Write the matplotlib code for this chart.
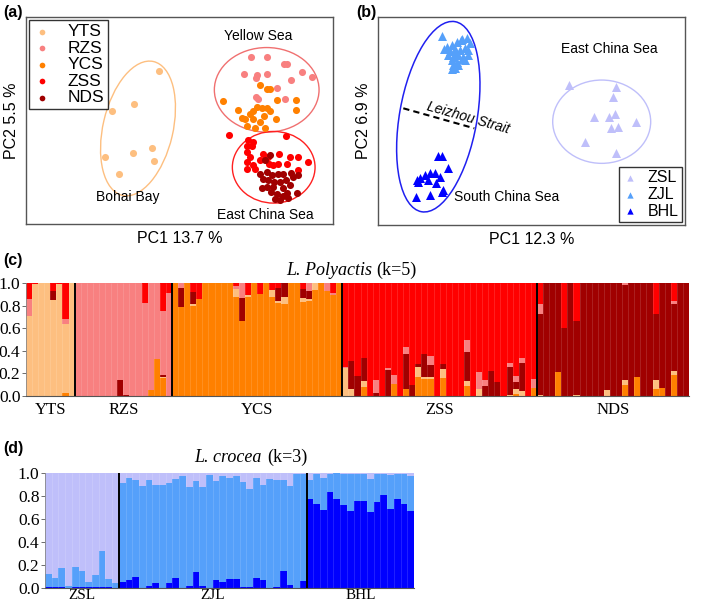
import numpy as np
import matplotlib
matplotlib.use('Agg')
from matplotlib import pyplot as plt
from matplotlib import patches

plt.rcParams['font.family'] = ['Liberation Sans', 'DejaVu Sans']
SERIF = 'Liberation Serif'

W, H = 709, 606

# ---- colours
C_YTS, C_RZS, C_YCS, C_ZSS, C_NDS = '#FDBF80', '#F88080', '#FF8000', '#FF0000', '#A00000'
C_ZSL, C_ZJL, C_BHL = '#BFBFFA', '#55A0FA', '#0000FF'

# ---- (a) PCA of L. polyactis (arbitrary PC units)
yts_x = [13.33, 10.8, 8.57, 7.93, 10.73, 12.63, 12.8, 9.33]
yts_y = [15.33, 12.07, 11.33, 6.73, 7.13, 7.6, 6.3, 5.0]
rzs_x = [22.47, 24.13, 25.8, 26.13, 21.8, 23.07, 24.13, 23.0, 25.07, 26.47, 27.57, 28.57, 23.0, 23.23, 25.93]
rzs_y = [16.83, 16.83, 16.07, 16.07, 15.07, 15.0, 15.07, 14.67, 13.67, 14.47, 15.3, 14.73, 12.73, 12.53, 12.53]
ycs_x = [23.4, 24.07, 24.4, 19.67, 25.07, 27.0, 23.07, 23.57, 24.07, 21.23, 22.73, 24.4, 27.0,
         21.57, 21.9, 22.73, 23.8, 25.0, 23.4, 22.07, 22.9, 23.9, 22.4]
ycs_y = [14.0, 13.57, 13.57, 12.4, 12.47, 12.47, 11.8, 11.67, 11.67, 11.47, 11.33, 11.4, 11.47,
         10.67, 10.6, 10.57, 10.9, 10.6, 10.2, 9.8, 9.67, 9.6, 11.07]
zss_x = [20.27, 25.97, 22.23, 22.73, 22.07, 22.57, 22.13, 23.73, 25.33, 26.4, 27.23, 28.23,
         22.13, 22.73, 22.07, 22.9, 24.33, 24.73, 25.23, 26.07, 27.17, 24.23, 22.4, 23.4]
zss_y = [8.9, 8.8, 8.4, 8.23, 7.8, 7.8, 7.23, 7.0, 7.0, 6.73, 6.73, 6.23,
         6.23, 5.9, 5.57, 5.57, 6.07, 5.9, 6.0, 6.07, 5.4, 6.73, 6.73, 6.4]
nds_x = [24.4, 23.9, 24.07, 23.4, 24.57, 25.23, 25.73, 26.47, 23.73, 24.23, 24.8, 25.4, 26.0, 26.73,
         27.23, 24.07, 24.73, 25.73, 26.4, 23.57, 24.47, 25.07, 25.67, 26.13, 27.07, 24.9, 25.4, 26.23]
nds_y = [6.9, 6.47, 5.23, 5.07, 4.9, 5.07, 5.0, 5.13, 4.57, 4.4, 4.23, 4.23, 4.4, 4.73,
         4.9, 3.73, 3.73, 3.57, 3.9, 3.57, 3.23, 3.0, 2.8, 3.13, 3.07, 2.5, 2.4, 2.57]

# ---- (b) PCA of L. crocea
zsl_x = [19.13, 23.8, 23.53, 21.63, 23.1, 23.7, 25.77, 23.27, 23.97, 20.7, 23.8]
zsl_y = [14.0, 13.77, 12.77, 10.83, 10.83, 11.1, 10.33, 9.67, 9.83, 8.33, 7.17]
zjl_x = [6.43, 6.87, 7.37, 7.87, 8.37, 8.87, 9.2, 6.63, 7.2, 7.7, 8.2, 8.7, 9.03, 7.03,
         7.53, 8.03, 8.53, 8.97, 7.37, 7.87, 8.37, 8.7, 7.53, 8.03, 7.37, 7.7, 8.3, 7.8]
zjl_y = [18.9, 17.83, 18.0, 18.33, 18.57, 18.67, 18.17, 17.57, 17.43, 17.57, 17.5, 17.67, 17.5, 17.0,
         16.83, 17.0, 16.83, 17.0, 16.5, 16.33, 16.57, 16.5, 16.0, 16.0, 15.57, 15.67, 18.5, 17.17]
bhl_x = [5.97, 6.43, 6.97, 3.87, 4.2, 4.7, 5.2, 5.7, 6.2, 4.03, 5.03, 5.77, 6.53, 3.8, 5.2, 6.43]
bhl_y = [6.9, 6.9, 5.67, 4.5, 4.67, 5.0, 5.17, 5.23, 4.83, 4.33, 4.5, 4.17, 3.5, 2.83, 3.0, 3.33]

# ---- (c) admixture, L. polyactis, k=5; columns: YCS, YTS, NDS, RZS, ZSS
pure = {'YCS': (1, 0, 0, 0, 0), 'YTS': (0, 1, 0, 0, 0), 'NDS': (0, 0, 1, 0, 0),
        'RZS': (0, 0, 0, 1, 0), 'ZSS': (0, 0, 0, 0, 1)}
q_yts = [(0, 0.71, 0, 0.15, 0.14), (0, 0.99, 0, 0, 0.01), pure['YTS'], pure['YTS'],
         (0, 0.85, 0.08, 0, 0.07), (0, 0.99, 0, 0, 0.01), (0.03, 0.61, 0, 0.04, 0.32), pure['YTS']]
q_rzs = [pure['RZS']] * 7 + [(0, 0, 0.14, 0.86, 0), (0, 0, 0.01, 0.99, 0), pure['RZS'], pure['RZS'],
         (0, 0, 0, 0.82, 0.18), (0.05, 0, 0, 0.95, 0), (0.33, 0, 0, 0.67, 0),
         (0.16, 0.01, 0.02, 0.56, 0.25), (0, 0, 0, 0.91, 0.09)]
q_ycs = [pure['YCS'], (0.79, 0, 0.165, 0.045, 0), pure['YCS'], (0.80, 0.01, 0.11, 0, 0.08),
         (0.86, 0, 0, 0, 0.14)] + [pure['YCS']] * 5 + \
        [(0.88, 0.07, 0, 0.02, 0.03), (0.66, 0, 0.21, 0.13, 0), (0.88, 0.01, 0, 0, 0.11), pure['YCS'],
         (0.90, 0, 0, 0, 0.10), pure['YCS'], (0.88, 0.06, 0, 0, 0.06), (0.82, 0.02, 0.12, 0, 0.04),
         (0.81, 0.07, 0.12, 0, 0), pure['YCS'], pure['YCS'], (0.83, 0.04, 0.08, 0, 0.05),
         (0.84, 0.02, 0.07, 0.07, 0), (0.94, 0.06, 0, 0, 0), pure['YCS'], (0.93, 0, 0, 0.07, 0),
         (0.89, 0, 0, 0.02, 0.09), pure['YCS']]
q_zss = [(0, 0.245, 0, 0.015, 0.74), (0, 0.06, 0.25, 0, 0.69), (0, 0, 0.18, 0, 0.82),
         (0.08, 0.05, 0.21, 0, 0.66), pure['ZSS'], (0, 0, 0.03, 0.11, 0.86), pure['ZSS'],
         (0, 0, 0.23, 0.02, 0.75), (0.11, 0, 0, 0.08, 0.81), pure['ZSS'], (0.06, 0, 0.31, 0.06, 0.57),
         (0, 0, 0.10, 0, 0.90), (0.17, 0.09, 0.02, 0, 0.72), (0.15, 0.02, 0.20, 0, 0.63),
         (0.15, 0.02, 0.10, 0.08, 0.65), pure['ZSS'], (0.16, 0.08, 0.04, 0, 0.72), pure['ZSS'],
         pure['ZSS'], pure['ZSS'], (0.09, 0.04, 0.26, 0.11, 0.50), pure['ZSS'], (0, 0.06, 0, 0.15, 0.79),
         (0, 0, 0.09, 0.05, 0.86), (0, 0, 0.22, 0, 0.78), (0, 0, 0.12, 0, 0.88), pure['ZSS'],
         (0, 0.01, 0.25, 0.03, 0.71), (0.02, 0.04, 0.06, 0.06, 0.82), (0, 0.04, 0.25, 0.05, 0.66),
         pure['ZSS'], (0.07, 0, 0, 0.08, 0.85)]
q_nds = [(0, 0.01, 0.72, 0.08, 0.19), pure['NDS'], pure['NDS'], (0.215, 0, 0.785, 0, 0),
         (0, 0, 0.60, 0, 0.40), pure['NDS'], (0, 0.01, 0.65, 0, 0.34)] + [pure['NDS']] * 4 + \
        [(0, 0.05, 0.95, 0, 0), pure['NDS'], pure['NDS'], (0.10, 0.04, 0.84, 0.02, 0), pure['NDS'],
         (0.17, 0, 0.83, 0, 0), pure['NDS'], pure['NDS'], (0.065, 0.075, 0.59, 0, 0.27),
         (0.075, 0, 0.925, 0, 0), pure['NDS'], (0.185, 0.035, 0.59, 0.03, 0.16), pure['NDS'], pure['NDS']]
pop_c = ['YTS', 'RZS', 'YCS', 'ZSS', 'NDS']

# ---- (d) admixture, L. crocea, k=3; columns: BHL, ZJL, ZSL
q_zsl = [(0.01, 0.11, 0.88), (0.005, 0.085, 0.91), (0.005, 0.165, 0.83), (0, 0.02, 0.98),
         (0.005, 0.175, 0.82), (0.005, 0.145, 0.85), (0.005, 0.045, 0.95), (0.01, 0.10, 0.89),
         (0.005, 0.315, 0.68), (0.005, 0.075, 0.92), (0, 0.04, 0.96)]
q_zjl = [(0.05, 0.86, 0.09), (0.07, 0.89, 0.04), (0.10, 0.84, 0.06), (0, 0.89, 0.11), (0.02, 0.92, 0.06),
         (0.04, 0.86, 0.10), (0, 0.90, 0.10), (0.04, 0.87, 0.09), (0.09, 0.86, 0.05), (0, 0.97, 0.03),
         (0.02, 0.86, 0.12), (0.14, 0.79, 0.07), (0.02, 0.86, 0.12), (0, 0.98, 0.02), (0.07, 0.86, 0.07),
         (0.05, 0.92, 0.03), (0.08, 0.88, 0.04), (0.075, 0.895, 0.03), (0.01, 0.91, 0.08),
         (0.01, 0.85, 0.14), (0.085, 0.875, 0.04), (0.07, 0.83, 0.10), (0, 0.95, 0.05),
         (0.005, 0.935, 0.06), (0.15, 0.79, 0.06), (0.03, 0.86, 0.11), (0, 0.99, 0.01), (0.06, 0.93, 0.01)]
q_bhl = [(0.77, 0.17, 0.06), (0.73, 0.26, 0.01), (0.675, 0.285, 0.04), (0.835, 0.155, 0.01),
         (0.77, 0.23, 0), (0.725, 0.265, 0.01), (0.67, 0.32, 0.01), (0.76, 0.23, 0.01),
         (0.755, 0.235, 0.01), (0.66, 0.29, 0.05), (0.75, 0.24, 0.01), (0.81, 0.18, 0.01),
         (0.685, 0.295, 0.02), (0.77, 0.22, 0.01), (0.73, 0.26, 0.01), (0.667, 0.303, 0.03)]
pop_d = ['ZSL', 'ZJL', 'BHL']


def px_axes(fig, x0, y0, x1, y1):
    """axes from pixel box (top-left origin)"""
    return fig.add_axes([x0 / W, 1 - y1 / H, (x1 - x0) / W, (y1 - y0) / H])


def pca_frame(ax, xlabel, ylabel):
    ax.set_xlim(0, 30.7)
    ax.set_ylim(0, 20.8)
    ax.set_xticks([])
    ax.set_yticks([])
    for s in ax.spines.values():
        s.set_color('#555555')
        s.set_linewidth(1.0)
    ax.set_xlabel(xlabel, fontsize=11.5, labelpad=5)
    ax.set_ylabel(ylabel, fontsize=11.5, labelpad=5)


def structure_plot(ax, pops, colors, labels, label_pad=4):
    rows = np.vstack([np.array(p, dtype=float) for p in pops])
    n = rows.shape[0]
    x = np.arange(n)
    bottom = np.zeros(n)
    for k, color in enumerate(colors):
        ax.bar(x, rows[:, k], bottom=bottom, width=1.0, align='edge', color=color, linewidth=0)
        bottom += rows[:, k]
    ax.vlines(x[1:], 0, 1, colors='white', linewidth=0.6, alpha=0.15)
    counts = np.array([len(p) for p in pops])
    edges = np.cumsum(counts)
    ax.vlines(edges[:-1], 0, 1, colors='black', linewidth=1.4)
    ax.set_xlim(0, n)
    ax.set_ylim(0, 1)
    ax.set_xticks(edges - counts / 2, labels)
    ax.set_yticks(np.linspace(0, 1, 6), ['%.1f' % v for v in np.linspace(0, 1, 6)])
    for side in ('top', 'right'):
        ax.spines[side].set_visible(False)
    ax.spines['bottom'].set_color('#555555')
    ax.spines['left'].set_color('#888888')
    ax.spines['left'].set_linewidth(0.6)
    ax.tick_params(axis='x', length=0, pad=label_pad, labelsize=12, labelfontfamily=SERIF)
    ax.tick_params(axis='y', length=3, width=0.6, color='#555555', pad=1, labelsize=12.5,
                   labelfontfamily=SERIF)


fig = plt.figure(figsize=(W / 100, H / 100), dpi=100)

# ---------------- (a)
ax_a = px_axes(fig, 26, 17, 333, 224)
pca_frame(ax_a, 'PC1 13.7 %', 'PC2 5.5 %')
ax_a.add_patch(patches.Ellipse((11.2, 9.6), 7.0, 13.8, angle=-13, fill=False, edgecolor=C_YTS, lw=1))
ax_a.add_patch(patches.Ellipse((24.07, 13.48), 10.47, 8.5, fill=False, edgecolor='#F07070', lw=1))
ax_a.add_patch(patches.Ellipse((24.77, 5.7), 8.27, 7.2, fill=False, edgecolor='#FF2020', lw=1))
for xs, ys, c, lab in [(yts_x, yts_y, C_YTS, 'YTS'), (rzs_x, rzs_y, C_RZS, 'RZS'),
                       (ycs_x, ycs_y, C_YCS, 'YCS'), (zss_x, zss_y, C_ZSS, 'ZSS'),
                       (nds_x, nds_y, C_NDS, 'NDS')]:
    ax_a.scatter(xs, ys, s=26, color=c, linewidths=0, label=lab, zorder=3)
leg = ax_a.legend(loc='upper left', fontsize=12.5, frameon=True, fancybox=False, borderaxespad=0.2,
                  handletextpad=1.0, labelspacing=0.08, borderpad=0.2, handlelength=1.0,
                  markerscale=0.8)
leg.get_frame().set_edgecolor('black')
leg.get_frame().set_linewidth(1.0)
ax_a.text(23.2, 18.9, 'Yellow Sea', ha='center', va='center', fontsize=10)
ax_a.text(10.2, 2.7, 'Bohai Bay', ha='center', va='center', fontsize=10)
ax_a.text(23.9, 0.9, 'East China Sea', ha='center', va='center', fontsize=10)

# ---------------- (b)
ax_b = px_axes(fig, 378, 17, 685, 225)
pca_frame(ax_b, 'PC1 12.3 %', 'PC2 6.9 %')
ax_b.add_patch(patches.Ellipse((6.03, 10.83), 7.75, 19.3, angle=-10, fill=False, edgecolor='#2020F0', lw=1.1))
ax_b.add_patch(patches.Ellipse((22.37, 10.33), 9.8, 8.33, fill=False, edgecolor=C_ZSL, lw=1))
for xs, ys, c, lab in [(zsl_x, zsl_y, C_ZSL, 'ZSL'), (zjl_x, zjl_y, C_ZJL, 'ZJL'),
                       (bhl_x, bhl_y, C_BHL, 'BHL')]:
    ax_b.scatter(xs, ys, s=42, marker='^', color=c, linewidths=0, label=lab, zorder=3)
leg = ax_b.legend(loc='lower right', fontsize=11.5, frameon=True, fancybox=False, borderaxespad=0.2,
                  handletextpad=0.6, labelspacing=0.1, borderpad=0.2, handlelength=1.0,
                  markerscale=0.7)
leg.get_frame().set_edgecolor('black')
leg.get_frame().set_linewidth(1.0)
ax_b.plot([2.53, 9.63], [11.67, 9.67], color='black', lw=1.5, ls=(0, (3, 2)))
ax_b.text(8.97, 10.67, 'Leizhou Strait', ha='center', va='center', fontsize=10, style='italic',
          rotation=-16, rotation_mode='anchor')
ax_b.text(23.1, 17.57, 'East China Sea', ha='center', va='center', fontsize=10)
ax_b.text(12.87, 2.77, 'South China Sea', ha='center', va='center', fontsize=10)

# ---------------- (c)
ax_c = px_axes(fig, 26, 283, 689, 396)
structure_plot(ax_c, [q_yts, q_rzs, q_ycs, q_zss, q_nds], [C_YCS, C_YTS, C_NDS, C_RZS, C_ZSS], pop_c)
fig.text(372 / W, 1 - 275 / H, 'L. Polyactis', ha='right', va='baseline', fontsize=13,
         family=SERIF, style='italic')
fig.text(376 / W, 1 - 275 / H, '(k=5)', ha='left', va='baseline', fontsize=13, family=SERIF)

# ---------------- (d)
ax_d = px_axes(fig, 45, 473, 414, 588)
structure_plot(ax_d, [q_zsl, q_zjl, q_bhl], [C_BHL, C_ZJL, C_ZSL], pop_d, label_pad=1)
for t in ax_d.get_xticklabels():
    t.set_fontsize(11)
fig.text(262 / W, 1 - 462 / H, 'L. crocea', ha='right', va='baseline', fontsize=13,
         family=SERIF, style='italic')
fig.text(267 / W, 1 - 462 / H, '(k=3)', ha='left', va='baseline', fontsize=13, family=SERIF)

# panel letters
for lab, x, y in [('(a)', 3, 12), ('(b)', 356, 12), ('(c)', 3, 260), ('(d)', 3, 448)]:
    fig.text(x / W, 1 - y / H, lab, ha='left', va='center', fontsize=11.5, fontweight='bold')

fig.savefig('out.png', dpi=100)
